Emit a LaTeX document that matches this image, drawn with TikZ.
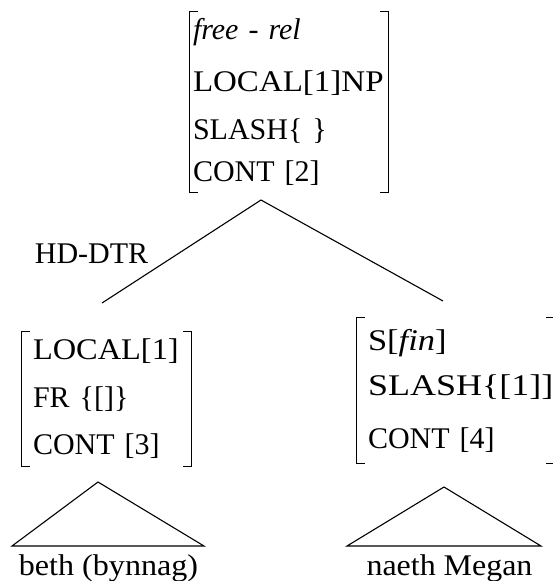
\documentclass[tikz,border=0pt]{standalone}
\usepackage{graphicx}
\usepackage{fontspec}
\setmainfont{Liberation Serif}
\newcommand{\avmwide}[2]{\scalebox{#1}[1]{#2}}

\begin{document}
\begin{tikzpicture}[x=1pt, y=-1pt,
    font=\fontsize{30}{46}\selectfont,
    avm/.style = {align=left, inner ysep=0pt, minimum height=#1},
    brk/.style = {line width=0.9pt},
    branch/.style = {line width=1.1pt}]
    \useasboundingbox (0,0) rectangle (553,581);

    \node[avm=180pt, text width=192pt, inner xsep=3pt] (top) at (289,102)
        {\textit{free - rel}\\[6pt] \avmwide{1.1}{LOCAL[1]NP}\\[2pt] SLASH\{ \}\\[-4pt] CONT [2]};
    \node[avm=135pt, text width=147pt, inner xsep=11pt] (hd) at (106.5,399)
        {\avmwide{1.08}{LOCAL[1]}\\[2pt] FR \{[]\}\\[1pt] CONT [3]};
    \node[avm=145pt, text width=175pt, inner xsep=11pt] (comp) at (455.5,390.5)
        {\avmwide{1.15}{S[\textit{fin}]}\\[-1pt] \avmwide{1.2}{SLASH\{[1]]}\\[7pt] CONT [4]};

    \foreach \n in {top,hd,comp} {
        \draw[brk] ([xshift=8pt]\n.north west) -- (\n.north west)
            -- (\n.south west) -- ([xshift=8pt]\n.south west);
        \draw[brk] ([xshift=-8pt]\n.north east) -- (\n.north east)
            -- (\n.south east) -- ([xshift=-8pt]\n.south east);
    }

    \coordinate (fork) at (261,200);
    \coordinate (hdend) at (102,303);
    \coordinate (compend) at (443,301);
    \draw[branch] (hdend) -- (fork) -- (compend);
    \node (dtr) [anchor=base] at (91.5,263) {HD-DTR};

    \node (beth) [anchor=base] at (108.5,575) {\avmwide{1.07}{beth (bynnag)}};
    \node (naeth) [anchor=base] at (449.5,575) {\avmwide{1.065}{naeth Megan}};
    \draw[branch] (98,482) -- (12,546) -- (204,546) -- cycle;
    \draw[branch] (444,487) -- (347,546) -- (541,546) -- cycle;
\end{tikzpicture}
\end{document}
